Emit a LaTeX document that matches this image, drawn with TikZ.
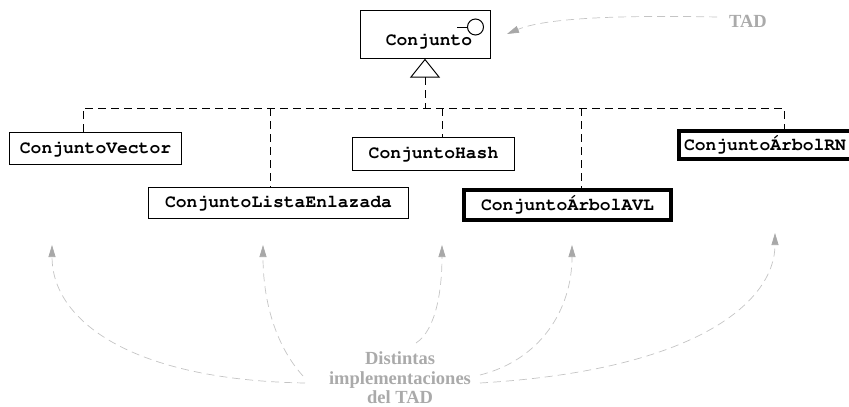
\documentclass[tikz,border=0pt]{standalone}
\usepackage[T1]{fontenc}
\usepackage{fontspec}
\setmainfont{Liberation Serif}
\usetikzlibrary{arrows.meta}

% Courier bold (URW clone) for the class names
\newcommand\classfont{\fontencoding{T1}\fontfamily{pcr}\fontseries{b}\fontshape{n}\fontsize{18}{20}\selectfont}
\newcommand\notefont{\fontsize{18.5}{19.5}\selectfont\rmfamily\bfseries}
\definecolor{notegray}{HTML}{AAAAAA}
\definecolor{curvegray}{HTML}{C4C4C4}
\definecolor{tipgray}{HTML}{A8A8A8}

\tikzset{
  cls/.style={draw, line width=1pt, inner sep=0pt, font=\classfont},
  clsthick/.style={cls, line width=4pt},
  dep/.style={line width=1pt, dash pattern=on 8pt off 5pt},
  note/.style={text=notegray, font=\notefont, inner sep=0pt},
  pointer/.style={draw=curvegray, line width=0.7pt, dash pattern=on 8pt off 5pt,
    -{Triangle[length=12pt, width=7pt, color=tipgray, fill=tipgray]}},
}

\begin{document}
\begin{tikzpicture}[x=1pt, y=-1pt]
  \useasboundingbox (0,0) rectangle (849,407);
  \clip (0,0) rectangle (849,407);

  % abstract type with its interface lollipop
  \node[cls, minimum width=130, minimum height=48] (conj) at (425,34) {};
  \node[font=\classfont, inner sep=0pt, anchor=base] (conjlabel) at (429,45.5) {Conjunto};
  \node[circle, draw, line width=1pt, minimum size=16, inner sep=0pt] (iface) at (475.5,27) {};
  \coordinate (ifstub) at (457,27);
  \draw[line width=1pt] (ifstub) -- (iface);

  % realization triangle
  \coordinate (apex) at (425,59.5);
  \coordinate (tribase) at (425,77);
  \draw[line width=1pt, fill=white] (apex) -- ++(-14,17.5) -- ++(28,0) -- cycle;

  % implementations
  \node[cls, minimum width=172, minimum height=32] (vec) at (95.5,148.5) {ConjuntoVector};
  \node[cls, minimum width=260, minimum height=31] (lista) at (278.5,203) {ConjuntoListaEnlazada};
  \node[cls, minimum width=162, minimum height=33] (hash) at (433.5,154) {ConjuntoHash};
  \node[clsthick, minimum width=207, minimum height=30] (avl) at (567.5,205) {Conjunto\'ArbolAVL};
  \node[clsthick, minimum width=200, minimum height=28, text width=190, align=left] (rn) at (779,145) {Conjunto\'ArbolRN};

  % dependency bus
  \coordinate (bus) at (425,108);
  \coordinate (b1) at (83,108);
  \coordinate (b2) at (270,108);
  \coordinate (b3) at (442,108);
  \coordinate (b4) at (581,108);
  \coordinate (b5) at (784,108);
  \draw[dep] (tribase) -- (bus);
  \draw[dep] (b1 |- vec.north) -- (b1) -- (b5) -- (b5 |- rn.north);
  \draw[dep] (b2) -- (b2 |- lista.north);
  \draw[dep] (b3) -- (b3 |- hash.north);
  \draw[dep] (b4) -- (b4 |- avl.north);

  % notes
  \node[note] (tad) at (748,21) {TAD};
  \node[note, align=center] (impl) at (400,378) {Distintas\\implementaciones\\del TAD};

  \coordinate (tadstart) at (717,17);
  \coordinate (tadtip) at (507,34);
  \draw[pointer] (tadstart) .. controls (620,15) and (545,18) .. (tadtip);

  \coordinate (s1) at (305,383);
  \coordinate (s2) at (303,376);
  \coordinate (s3) at (416,343);
  \coordinate (s4) at (480,375);
  \coordinate (s5) at (480,383);
  \coordinate (t1) at (52,245);
  \coordinate (t2) at (263,245);
  \coordinate (t3) at (442,245);
  \coordinate (t4) at (572,245);
  \coordinate (t5) at (775,233);
  \draw[pointer] (s1) .. controls (130,380) and (52,320) .. (t1);
  \draw[pointer] (s2) .. controls (275,345) and (263,300) .. (t2);
  \draw[pointer] (s3) .. controls (436,330) and (442,290) .. (t3);
  \draw[pointer] (s4) .. controls (540,360) and (572,310) .. (t4);
  \draw[pointer] (s5) .. controls (700,370) and (775,300) .. (t5);
\end{tikzpicture}
\end{document}
